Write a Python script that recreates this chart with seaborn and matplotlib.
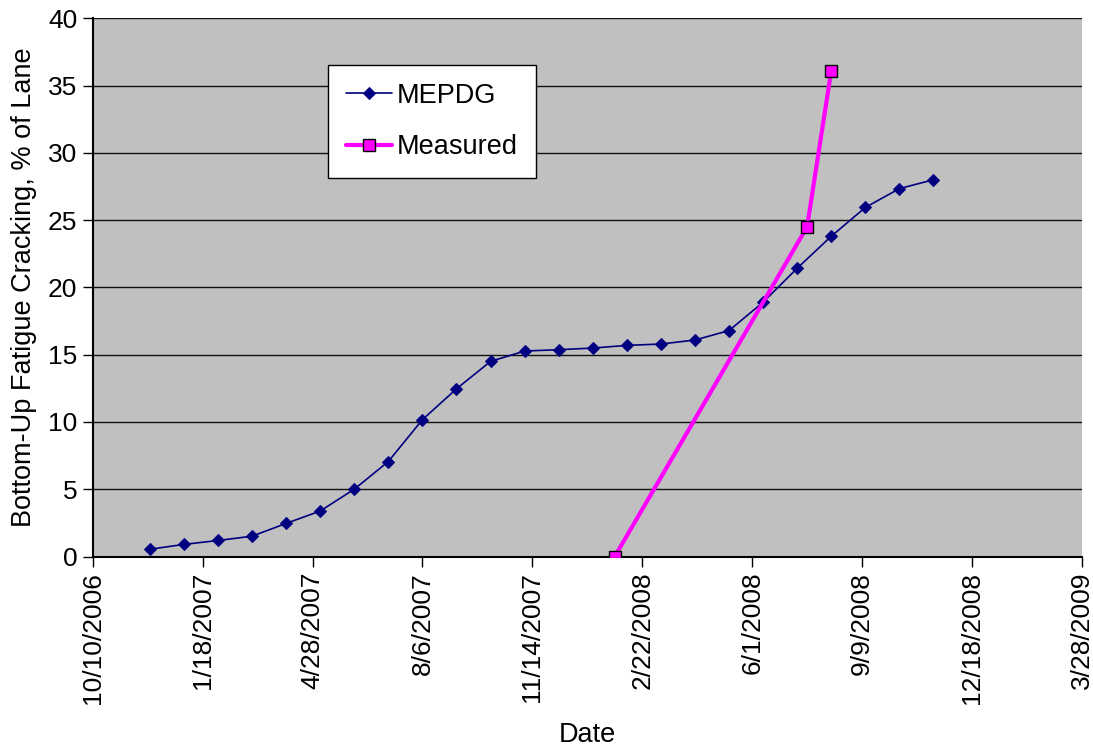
import numpy as np
import pandas as pd
import matplotlib
matplotlib.use('Agg')
import matplotlib.pyplot as plt
import seaborn as sns

# MEPDG predicted cracking (monthly-ish output dates)
mepdg_dates = ['2006-12-01', '2007-01-01', '2007-02-01', '2007-03-04', '2007-04-04',
               '2007-05-05', '2007-06-05', '2007-07-06', '2007-08-06', '2007-09-06',
               '2007-10-07', '2007-11-07', '2007-12-08', '2008-01-08', '2008-02-08',
               '2008-03-10', '2008-04-10', '2008-05-11', '2008-06-11', '2008-07-12',
               '2008-08-12', '2008-09-12', '2008-10-13', '2008-11-13']
mepdg_vals = [0.54, 0.9, 1.19, 1.51, 2.46, 3.38, 5.0, 7.06, 10.17, 12.46,
              14.5, 15.27, 15.37, 15.49, 15.69, 15.79, 16.09, 16.79, 18.9, 21.42,
              23.8, 25.94, 27.34, 28.0]

# field measurements
meas_dates = ['2008-01-28', '2008-07-21', '2008-08-12']
meas_vals = [0.0, 24.5, 36.1]

xtick_dates = ['2006-10-10', '2007-01-18', '2007-04-28', '2007-08-06', '2007-11-14',
               '2008-02-22', '2008-06-01', '2008-09-09', '2008-12-18', '2009-03-28']
xtick_labels = ['10/10/2006', '1/18/2007', '4/28/2007', '8/6/2007', '11/14/2007',
                '2/22/2008', '6/1/2008', '9/9/2008', '12/18/2008', '3/28/2009']
yticks = [0, 5, 10, 15, 20, 25, 30, 35, 40]

df_m = pd.DataFrame({'Date': pd.to_datetime(mepdg_dates), 'Cracking': mepdg_vals})
df_f = pd.DataFrame({'Date': pd.to_datetime(meas_dates), 'Cracking': meas_vals})

sns.set_style('white')
plt.rcParams['font.family'] = ['Liberation Sans', 'DejaVu Sans']
plt.rcParams['text.color'] = 'black'
plt.rcParams['axes.labelcolor'] = 'black'
plt.rcParams['xtick.color'] = 'black'
plt.rcParams['ytick.color'] = 'black'

fig = plt.figure(figsize=(10.93, 7.48), dpi=100)
ax = fig.add_axes([0.0848, 0.256, 0.9050, 0.7196])
ax.set_facecolor('#C0C0C0')

sns.lineplot(data=df_m, x='Date', y='Cracking', ax=ax, color='#000080', lw=1.2,
             marker='D', markersize=6, markeredgecolor='#000080', label='MEPDG', zorder=3)
sns.lineplot(data=df_f, x='Date', y='Cracking', ax=ax, color='#FF00FF', lw=3,
             marker='s', markersize=9, markeredgecolor='#000000', markeredgewidth=1,
             label='Measured', zorder=4)

ax.set_xlim(pd.Timestamp(xtick_dates[0]), pd.Timestamp(xtick_dates[-1]))
ax.set_ylim(0, 40)
ax.set_xticks(pd.to_datetime(xtick_dates))
ax.set_xticklabels(xtick_labels, rotation=90, fontsize=19)
ax.set_yticks(yticks)
ax.set_yticklabels([str(v) for v in yticks], fontsize=19)
ax.yaxis.grid(True, color='#111111', lw=1)
ax.set_axisbelow(True)

for s in ['top', 'right']:
    ax.spines[s].set_visible(False)
for s in ['left', 'bottom']:
    ax.spines[s].set_color('black')
    ax.spines[s].set_linewidth(1.5)
ax.tick_params(axis='both', direction='out', length=7, width=1, color='black', pad=4,
               bottom=True, left=True)

ax.set_xlabel('Date', fontsize=19.5, labelpad=13)
ax.set_ylabel('Bottom-Up Fatigue Cracking, % of Lane', fontsize=19.5, labelpad=8)

leg = ax.legend(loc='upper left', bbox_to_anchor=(328 / 1093, 1 - 65 / 748),
                bbox_transform=fig.transFigure, fontsize=19.5, frameon=True,
                fancybox=False, framealpha=1, edgecolor='black', handlelength=1.7,
                labelspacing=0.95, borderpad=0.65, handletextpad=0.2, borderaxespad=0)
leg.get_frame().set_linewidth(1)

fig.savefig('out.png', dpi=100)
